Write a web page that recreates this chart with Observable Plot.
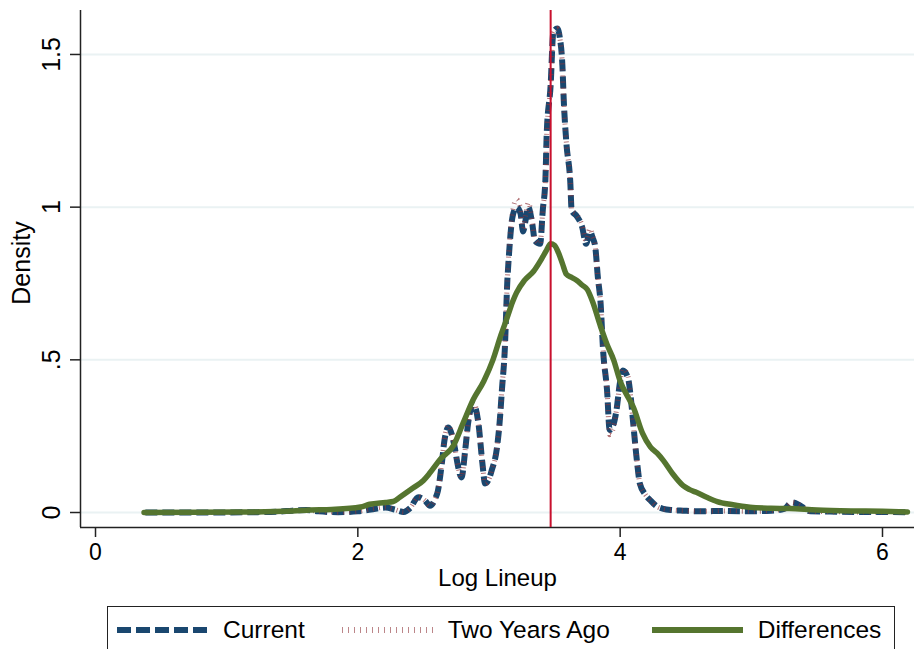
<!DOCTYPE html>
<html>
<head>
<meta charset="utf-8">
<script src="https://cdn.jsdelivr.net/npm/d3@7"></script>
<script src="https://cdn.jsdelivr.net/npm/@observablehq/plot@0.6"></script>
<style>
  html, body { margin: 0; padding: 0; background: #fff; }
  body { width: 914px; height: 649px; overflow: hidden; font-family: "Liberation Sans", Arial, Helvetica, sans-serif; }
  #legend {
    margin-left: 107px; margin-top: 6px; width: 786px; height: 46px;
    border: 1.5px solid #222; display: flex; align-items: center; box-sizing: content-box;
    font-size: 24.5px; color: #000;
  }
  #legend .item { display: flex; align-items: center; }
  #legend svg { display: block; margin-right: 15px; }
</style>
</head>
<body>
<div id="chart"></div>
<div id="legend"></div>
<script>
// ---- data ----
const currentX = [0.38,0.8,1.2,1.4,1.5,1.61,1.7,1.85,2.0,2.1,2.21,2.28,2.35,2.40,2.46,2.51,2.55,2.59,2.61,2.64,2.66,2.69,2.72,2.74,2.76,2.79,2.82,2.84,2.88,2.92,2.95,2.97,3.00,3.02,3.06,3.08,3.10,3.12,3.14,3.15,3.18,3.21,3.24,3.26,3.28,3.30,3.33,3.35,3.39,3.41,3.43,3.44,3.47,3.49,3.52,3.54,3.56,3.57,3.59,3.62,3.63,3.67,3.71,3.74,3.77,3.79,3.81,3.83,3.85,3.87,3.90,3.92,3.95,3.97,4.00,4.02,4.06,4.08,4.10,4.13,4.15,4.19,4.23,4.28,4.33,4.40,4.48,4.6,4.8,5.0,5.15,5.25,5.31,5.36,5.40,5.45,5.6,5.8,6.0,6.19];
const currentY = [0.000,0.000,0.001,0.003,0.006,0.008,0.004,0.001,0.004,0.010,0.016,0.010,0.002,0.015,0.050,0.040,0.022,0.045,0.070,0.160,0.235,0.278,0.250,0.210,0.160,0.115,0.210,0.290,0.355,0.290,0.160,0.095,0.110,0.137,0.210,0.290,0.410,0.530,0.760,0.830,0.970,1.000,0.980,0.920,0.960,1.000,0.945,0.890,0.880,0.990,1.090,1.240,1.400,1.570,1.585,1.555,1.460,1.350,1.210,1.080,0.990,0.970,0.935,0.880,0.920,0.900,0.870,0.770,0.690,0.530,0.400,0.270,0.290,0.330,0.430,0.465,0.440,0.380,0.290,0.160,0.095,0.060,0.040,0.020,0.012,0.008,0.006,0.004,0.005,0.004,0.006,0.012,0.033,0.026,0.015,0.004,0.003,0.002,0.002,0.001];
const twoYearsX = currentX;
const twoYearsY = [0.000,0.000,0.001,0.003,0.006,0.008,0.004,0.001,0.004,0.011,0.017,0.010,0.002,0.016,0.052,0.040,0.022,0.046,0.072,0.165,0.240,0.285,0.255,0.212,0.160,0.115,0.212,0.292,0.360,0.292,0.160,0.095,0.110,0.137,0.212,0.292,0.412,0.535,0.765,0.840,0.985,1.025,0.995,0.930,0.975,1.015,0.955,0.895,0.880,0.990,1.090,1.240,1.400,1.570,1.585,1.555,1.460,1.350,1.210,1.080,0.990,0.975,0.940,0.890,0.930,0.905,0.870,0.770,0.690,0.530,0.400,0.255,0.280,0.330,0.430,0.470,0.445,0.380,0.290,0.160,0.095,0.060,0.040,0.020,0.012,0.008,0.006,0.004,0.005,0.004,0.006,0.012,0.033,0.026,0.015,0.004,0.003,0.002,0.002,0.001];
const diffX = [0.37,0.8,1.2,1.5,1.64,1.8,2.02,2.09,2.21,2.27,2.32,2.42,2.50,2.55,2.63,2.73,2.80,2.88,2.96,3.03,3.09,3.14,3.18,3.21,3.27,3.34,3.40,3.44,3.47,3.50,3.53,3.56,3.59,3.63,3.67,3.71,3.75,3.79,3.85,3.90,3.95,4.00,4.07,4.10,4.17,4.23,4.28,4.33,4.40,4.48,4.53,4.58,4.66,4.74,4.85,4.99,5.15,5.29,5.5,5.8,6.0,6.19];
const diffY = [0.000,0.001,0.002,0.005,0.008,0.010,0.018,0.027,0.033,0.036,0.050,0.080,0.105,0.130,0.175,0.220,0.290,0.370,0.430,0.500,0.580,0.640,0.690,0.720,0.760,0.790,0.830,0.860,0.880,0.875,0.850,0.815,0.780,0.770,0.760,0.745,0.730,0.690,0.610,0.550,0.500,0.430,0.370,0.345,0.260,0.215,0.195,0.170,0.127,0.088,0.075,0.066,0.050,0.036,0.026,0.017,0.014,0.013,0.008,0.005,0.004,0.002];
const meanLineup = 3.47;
const xTicks = [0, 2, 4, 6];
const xTickLabels = ["0", "2", "4", "6"];
const yTicks = [0, 0.5, 1, 1.5];
const yTickLabels = ["0", ".5", "1", "1.5"];
const xDomain = [-0.1144, 6.244];
const yDomain = [-0.0491, 1.644];
const seriesNames = ["Current", "Two Years Ago", "Differences"];

const navy = "#1a476f", maroon = "#90353b", green = "#55752f", red = "#c8102e";

const chart = Plot.plot({
  width: 914,
  height: 600,
  marginLeft: 80,
  marginRight: 0,
  marginTop: 10,
  marginBottom: 73,
  style: { fontFamily: "'Liberation Sans', Arial, Helvetica, sans-serif", background: "#fff", color: "#000" },
  x: { domain: xDomain },
  y: { domain: yDomain },
  marks: [
    Plot.gridY(yTicks, { stroke: "#eaf2f3", strokeOpacity: 1, strokeWidth: 2 }),
    Plot.ruleX([xDomain[0]], { stroke: "#222", strokeWidth: 1.5 }),
    Plot.ruleY([yDomain[0]], { stroke: "#222", strokeWidth: 1.5 }),
    Plot.axisX({ ticks: xTicks, tickSize: 10, tickPadding: 6, fontSize: 23, label: null, tickFormat: d => xTickLabels[xTicks.indexOf(d)], stroke: "#222", strokeWidth: 1.5 }),
    Plot.axisY({ ticks: yTicks, tickSize: 10, tickFormat: () => "", label: null, stroke: "#222", strokeWidth: 1.5 }),
    Plot.text(yTicks, { y: d => d, frameAnchor: "left", text: (d, i) => yTickLabels[i], rotate: -90, textAnchor: "middle", lineAnchor: "bottom", dx: -21, fontSize: 25, fill: "#000" }),
    Plot.text(["Log Lineup"], { frameAnchor: "bottom", text: d => d, dy: 51, lineAnchor: "middle", fontSize: 24, fill: "#000" }),
    Plot.text(["Density"], { frameAnchor: "left", text: d => d, rotate: -90, lineAnchor: "bottom", textAnchor: "middle", dx: -51, dy: -6, fontSize: 25, fill: "#000" }),
    Plot.line(currentX, { x: currentX, y: currentY, stroke: navy, strokeWidth: 6, strokeDasharray: "12,5", strokeLinecap: "butt", curve: "monotone-x" }),
    Plot.line(twoYearsX, { x: twoYearsX, y: twoYearsY, stroke: maroon, strokeWidth: 5, strokeDasharray: "1,5", strokeOpacity: 0.7, strokeLinecap: "butt", curve: "monotone-x" }),
    Plot.line(diffX, { x: diffX, y: diffY, stroke: green, strokeWidth: 5.5, strokeLinejoin: "round", strokeLinecap: "round", curve: "monotone-x" }),
    Plot.ruleX([meanLineup], { stroke: red, strokeWidth: 2 })
  ]
});
document.getElementById("chart").appendChild(chart);

// ---- legend ----
const legendStyles = [
  { stroke: navy, width: 6, dash: "14,5", opacity: 1 },
  { stroke: maroon, width: 6, dash: "1,5", opacity: 0.6 },
  { stroke: green, width: 6, dash: null, opacity: 1 }
];
const gaps = [9, 37, 42];
const legend = document.getElementById("legend");
seriesNames.forEach((name, i) => {
  const item = document.createElement("div");
  item.className = "item";
  item.style.marginLeft = gaps[i] + "px";
  const s = legendStyles[i];
  item.innerHTML = `<svg width="91" height="12"><line x1="0" x2="91" y1="6" y2="6" stroke="${s.stroke}" stroke-width="${s.width}" stroke-opacity="${s.opacity}" ${s.dash ? `stroke-dasharray="${s.dash}"` : ""}/></svg><span>${name}</span>`;
  legend.appendChild(item);
});
</script>
</body>
</html>
